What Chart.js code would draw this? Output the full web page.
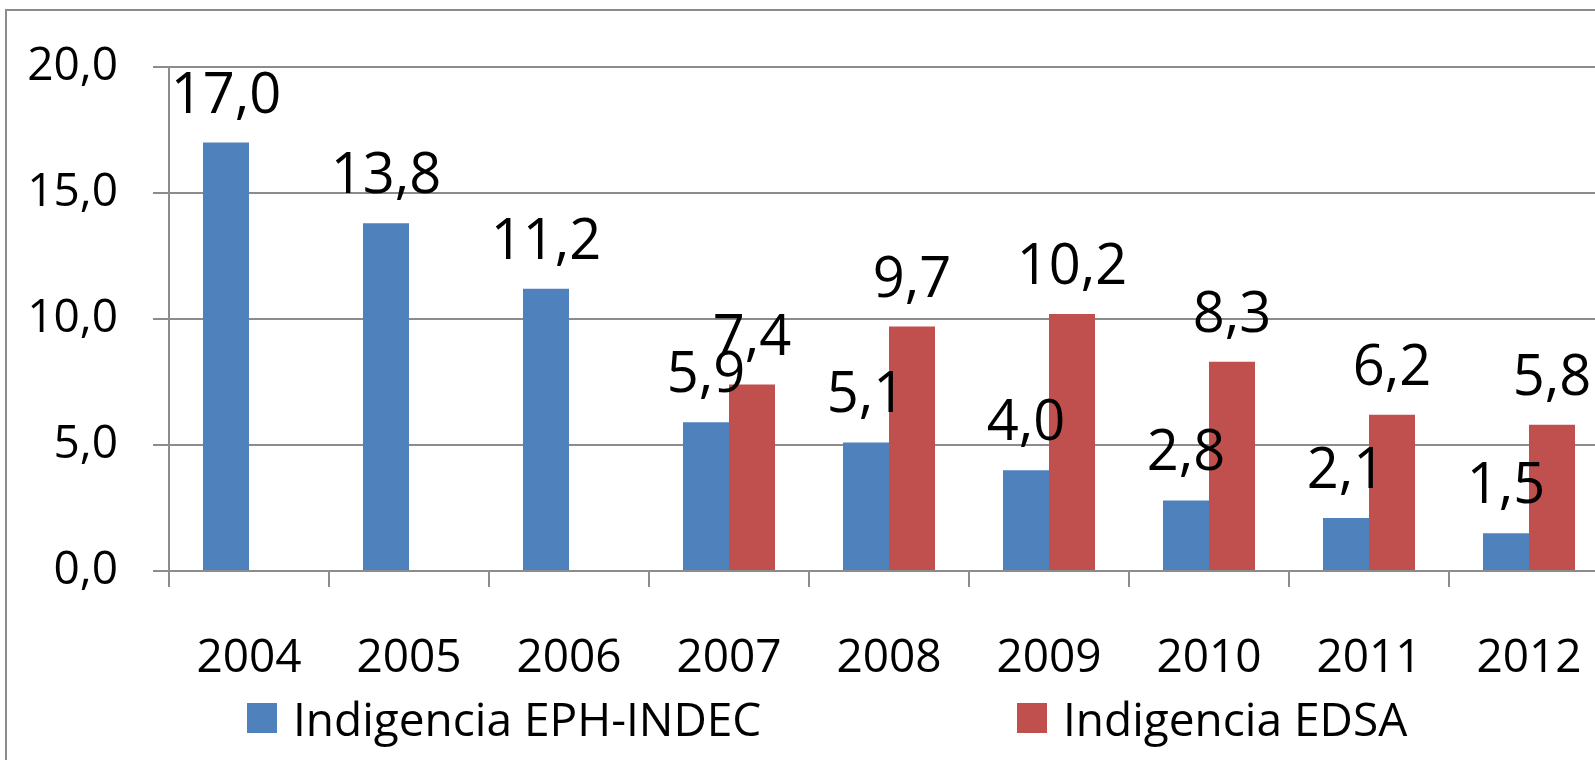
<!DOCTYPE html>
<html>
<head>
<meta charset="utf-8">
<script src="https://cdn.jsdelivr.net/npm/chart.js@4.4.1/dist/chart.umd.min.js"></script>
<style>
  html, body { margin: 0; padding: 0; background: #fff; overflow: hidden; }
  body { width: 1595px; height: 760px; position: relative; }
  #frame { position: absolute; left: 5px; top: 9px; width: 1700px; height: 900px;
           border-left: 2px solid #8c8c8c; border-top: 2px solid #8c8c8c; }
  #wrap { position: absolute; left: 0; top: 0; width: 1609px; height: 760px; }
</style>
</head>
<body>
<div id="frame"></div>
<div id="wrap"><canvas id="myChart"></canvas></div>
<script>
const years = ['2004', '2005', '2006', '2007', '2008', '2009', '2010', '2011', '2012'];
const ephIndec = [17.0, 13.8, 11.2, 5.9, 5.1, 4.0, 2.8, 2.1, 1.5];
const edsa = [null, null, null, 7.4, 9.7, 10.2, 8.3, 6.2, 5.8];
const yTicks = [0, 5, 10, 15, 20];
const seriesNames = ['Indigencia EPH-INDEC', 'Indigencia EDSA'];
const seriesColors = ['#4F81BD', '#C0504D'];

const FONT = '"Open Sans", "Noto Sans", sans-serif';
const GRID = '#8c8c8c';

const fmt = v => v.toFixed(1).replace('.', ',');

// value labels above the bars
const valueLabels = {
  id: 'valueLabels',
  afterDatasetsDraw(chart) {
    const ctx = chart.ctx;
    ctx.save();
    ctx.font = '56px ' + FONT;
    ctx.fillStyle = '#000';
    ctx.textAlign = 'center';
    ctx.textBaseline = 'alphabetic';
    chart.data.datasets.forEach((ds, i) => {
      chart.getDatasetMeta(i).data.forEach((bar, j) => {
        const v = ds.data[j];
        if (v === null) return;
        ctx.fillText(fmt(v), bar.x, bar.y - 30);
      });
    });
    ctx.restore();
  }
};

// legend drawn under the axis, like the original
const bottomLegend = {
  id: 'bottomLegend',
  afterDraw(chart) {
    const ctx = chart.ctx;
    const xs = [247, 1017];
    ctx.save();
    ctx.font = '46px ' + FONT;
    ctx.textBaseline = 'alphabetic';
    ctx.textAlign = 'left';
    chart.data.datasets.forEach((ds, i) => {
      ctx.fillStyle = ds.backgroundColor;
      ctx.fillRect(xs[i], 703, 30, 30);
      ctx.fillStyle = '#000';
      ctx.fillText(ds.label, xs[i] + 46, 736);
    });
    ctx.restore();
  }
};

const data = {
  labels: years,
  datasets: [{
    label: seriesNames[0],
    backgroundColor: seriesColors[0],
    data: ephIndec
  }, {
    label: seriesNames[1],
    backgroundColor: seriesColors[1],
    data: edsa
  }]
};

const config = {
  type: 'bar',
  data,
  options: {
    responsive: true,
    maintainAspectRatio: false,
    animation: false,
    events: [],
    layout: { padding: { top: 67, left: 0, right: 0, bottom: 0 } },
    datasets: {
      bar: { categoryPercentage: 0.575, barPercentage: 1.0 }
    },
    plugins: {
      legend: { display: false },
      tooltip: { enabled: false }
    },
    scales: {
      x: {
        grid: {
          offset: true,
          drawOnChartArea: false,
          drawTicks: true,
          tickLength: 16,
          color: GRID,
          lineWidth: 2
        },
        border: { display: true, color: GRID, width: 2 },
        ticks: {
          color: '#000',
          font: { family: FONT, size: 46 },
          padding: 44,
          maxRotation: 0,
          autoSkip: false
        },
        afterFit(scale) {
          scale.height = 189;
          scale.paddingLeft = 0;
          scale.paddingRight = 0;
        }
      },
      y: {
        min: 0,
        max: 20,
        afterBuildTicks(scale) {
          scale.ticks = yTicks.map(v => ({ value: v }));
        },
        grid: {
          color: GRID,
          lineWidth: 2,
          drawTicks: true,
          tickLength: 16
        },
        border: { display: true, color: GRID, width: 2 },
        ticks: {
          color: '#000',
          font: { family: FONT, size: 46 },
          padding: 35,
          callback: v => fmt(v)
        },
        afterFit(scale) {
          scale.width = 169;
          scale.paddingTop = 0;
          scale.paddingBottom = 0;
        }
      }
    }
  },
  plugins: [valueLabels, bottomLegend]
};

let myChart = new Chart(
  document.getElementById('myChart'),
  config
);
</script>
</body>
</html>
